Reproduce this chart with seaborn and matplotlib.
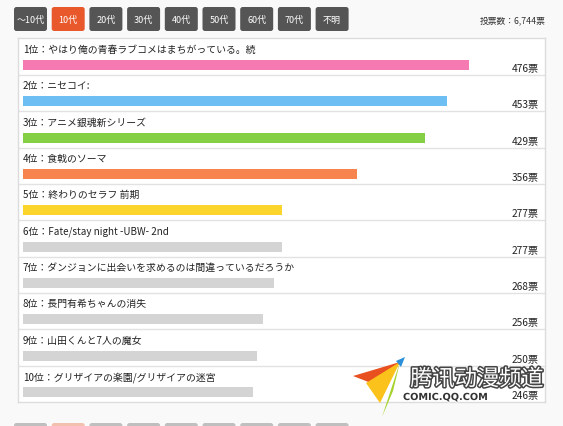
import numpy as np
import pandas as pd
import matplotlib
matplotlib.use("Agg")
import matplotlib.pyplot as plt
from matplotlib.patches import FancyBboxPatch, Polygon
import matplotlib.patheffects as pe
import seaborn as sns

# ---- data ----
ranks = [1, 2, 3, 4, 5, 6, 7, 8, 9, 10]
titles = [
    "やはり俺の青春ラブコメはまちがっている。続",
    "ニセコイ:",
    "アニメ銀魂新シリーズ",
    "食戟のソーマ",
    "終わりのセラフ 前期",
    "Fate/stay night -UBW- 2nd",
    "ダンジョンに出会いを求めるのは間違っているだろうか",
    "長門有希ちゃんの消失",
    "山田くんと7人の魔女",
    "グリザイアの楽園/グリザイアの迷宮",
]
votes = [476, 453, 429, 356, 277, 277, 268, 256, 250, 246]
bar_colors = ["#f57ab1", "#6dbff3", "#84cf46", "#f7844f", "#fbd52b",
              "#d4d4d4", "#d4d4d4", "#d4d4d4", "#d4d4d4", "#d4d4d4"]
tabs = ["～10代", "10代", "20代", "30代", "40代", "50代", "60代", "70代", "不明"]
active_tab = "10代"
total_label = "投票数：6,744票"

sns.set_style("white")
plt.rcParams["font.family"] = ["Noto Sans CJK JP", "DejaVu Sans"]

W, H = 563, 427
fig = plt.figure(figsize=(W / 100, H / 100), dpi=100)
fig.patch.set_facecolor("#f9f9f9")

# overlay axes in pixel coordinates for page decorations
deco = fig.add_axes([0, 0, 1, 1], zorder=0)
deco.set_xlim(0, W)
deco.set_ylim(H, 0)
deco.axis("off")

# tabs (top and cut-off copy at bottom)
tab_x0, tab_pitch, tab_w = 14, 37.7, 33
for j, t in enumerate(tabs):
    x = tab_x0 + j * tab_pitch
    col = "#e8582a" if t == active_tab else "#555555"
    deco.add_patch(FancyBboxPatch((x, 8), tab_w, 24,
                                  boxstyle="round,pad=0,rounding_size=2.5",
                                  fc=col, ec="none"))
    deco.add_patch(FancyBboxPatch((x, 424), tab_w, 10,
                                  boxstyle="round,pad=0,rounding_size=2.5",
                                  fc=col, ec="none", alpha=0.35))
    deco.text(x + tab_w / 2, 20.5, t, color="white", fontsize=6.5,
              ha="center", va="center")
deco.text(546, 20.5, total_label, color="#333333", fontsize=6.3,
          ha="right", va="center")

# main ranking box
ax = fig.add_axes([18 / W, 1 - 403 / H, (545 - 18) / W, (403 - 39) / H], zorder=1)
ax.set_facecolor("white")
df = pd.DataFrame({"title": titles, "votes": votes})
sns.barplot(data=df, x="votes", y="title", hue="title", palette=bar_colors,
            width=0.274, saturation=1, legend=False, ax=ax, linewidth=0)
ax.set_xlim(-5, 557)
ax.set_ylim(9.27, -0.74)
ax.set_xticks([])
ax.set_yticks([])
ax.set_xlabel("")
ax.set_ylabel("")
for s in ax.spines.values():
    s.set_color("#dcdcdc")
    s.set_linewidth(1)
for i in range(len(titles) - 1):
    ax.axhline(i + 0.274, color="#e2e2e2", lw=1)

yt = ax.get_yaxis_transform()
for i, (r, t, v) in enumerate(zip(ranks, titles, votes)):
    ax.text(0, i - 0.44, f"{r}位：{t}", fontsize=7.1, color="#222222",
            ha="left", va="center")
    ax.text(0.9886, i + 0.08, f"{v}票", transform=yt, fontsize=7.3,
            color="#222222", ha="right", va="center")

# watermark logo
logo = fig.add_axes([0, 0, 1, 1], zorder=2)
logo.set_xlim(0, W)
logo.set_ylim(H, 0)
logo.axis("off")
logo.add_patch(Polygon([(353, 377), (400, 363), (384, 389)], fc="#e8501f", ec="none"))
logo.add_patch(Polygon([(366, 384), (400, 363), (380, 404)], fc="#fbc21b", ec="none"))
logo.add_patch(Polygon([(400, 363), (393, 392), (382, 418)], fc="#a6d22c", ec="none"))
logo.add_patch(Polygon([(396, 362), (405, 358), (401, 368)], fc="#2a8fd8", ec="none"))
logo.text(477, 380, "腾讯动漫频道", family=["Noto Sans CJK SC", "DejaVu Sans"],
          fontsize=16, color="white", ha="center", va="center", style="italic",
          path_effects=[pe.withStroke(linewidth=2.2, foreground="#444444")])
logo.text(403, 398, "COMIC.QQ.COM", family=["DejaVu Sans"], fontsize=7,
          fontweight="bold", color="#333333", ha="left", va="center",
          path_effects=[pe.withStroke(linewidth=1.5, foreground="white")])

fig.savefig("out.png", dpi=100, facecolor=fig.get_facecolor())
